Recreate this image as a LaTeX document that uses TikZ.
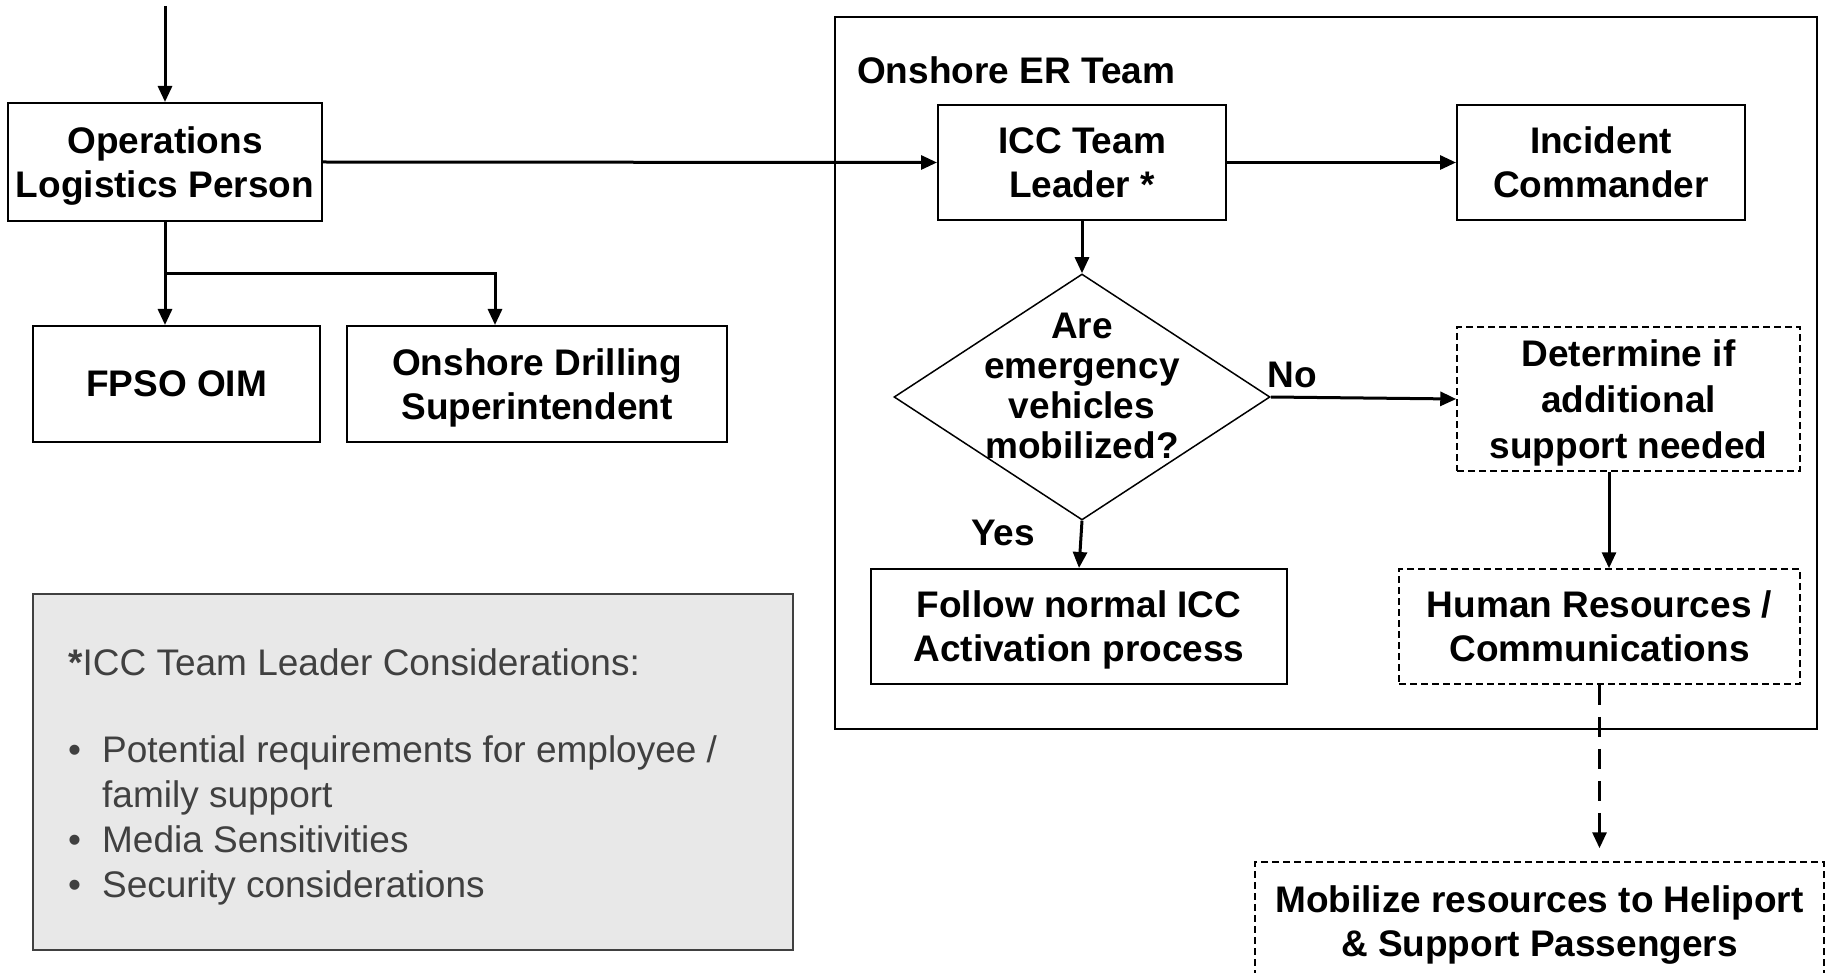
\documentclass[tikz,border=0pt]{standalone}
\usepackage{fontspec}
\setmainfont{Liberation Sans}
\usetikzlibrary{arrows.meta,shapes.geometric}
\definecolor{txtgray}{RGB}{64,64,64}
\definecolor{boxgray}{RGB}{232,232,232}
\begin{document}
\begin{tikzpicture}[x=1pt,y=-1pt,
  bigfont/.style={font=\bfseries\fontsize{37}{44}\selectfont},
  box/.style={draw, line width=2pt, inner sep=0pt, align=center, text depth=0pt, bigfont},
  dbox/.style={box, line width=1.5pt, dash pattern=on 7pt off 4pt},
  arr/.style={line width=3pt, -{Triangle[length=16pt,width=14pt]}},
  darr/.style={arr, dash pattern=on 20pt off 12pt},
  lbl/.style={bigfont, inner sep=0pt}]
\useasboundingbox (0,0) rectangle (1833,973);

% left part
\node[box, minimum width=314pt, minimum height=118pt] (ops) at (165,162) {Operations\\Logistics Person};
\node[box, minimum width=287pt, minimum height=116pt] (fpso) at (176.5,384) {FPSO OIM};
\node[box, minimum width=380pt, minimum height=116pt] (drill) at (537,384) {Onshore Drilling\\Superintendent};

% onshore ER team frame
\node[draw, line width=2pt, minimum width=982pt, minimum height=711.5pt, inner sep=0pt] (er) at (1326,373.25) {};
\node[lbl, anchor=west] (ert) at (857,70) {Onshore ER Team};

\node[box, minimum width=288pt, minimum height=115pt] (icc) at (1082,162.5) {ICC Team\\Leader *};
\node[box, minimum width=288pt, minimum height=115pt] (ic) at (1601,162.5) {Incident\\Commander};
\node[diamond, draw, line width=1.5pt, minimum width=376pt, minimum height=246pt, inner sep=0pt] (dia) at (1082,397) {};
\node[lbl, align=center, font=\bfseries\fontsize{37}{40}\selectfont] (diat) at (1082,386) {Are\\emergency\\vehicles\\mobilized?};
\node[dbox, minimum width=343pt, minimum height=144pt, font=\bfseries\fontsize{37}{46}\selectfont] (det) at (1628.5,399) {Determine if\\additional\\support needed};
\node[box, minimum width=416pt, minimum height=115pt] (follow) at (1079,626.5) {Follow normal ICC\\Activation process};
\node[dbox, minimum width=401pt, minimum height=115pt] (hr) at (1599.5,626.5) {Human Resources /\\Communications};
\node[dbox, minimum width=569pt, minimum height=118pt] (mob) at (1539.5,921) {Mobilize resources to Heliport\\\& Support Passengers};

\node[lbl] (no) at (1292,375) {No};
\node[lbl] (yes) at (1003,533) {Yes};

% considerations box
\node[draw=txtgray, fill=boxgray, line width=2pt, minimum width=760pt, minimum height=356pt, inner sep=0pt] (gray) at (413,772) {};
\node[anchor=north west, align=left, text=txtgray, font=\fontsize{37}{45}\selectfont, inner sep=0pt] (cons) at (68,648)
  {\textbf{*}ICC Team Leader Considerations:\\[42pt]
   \makebox[34pt][l]{•}Potential requirements for employee /\\
   \hspace*{34pt}family support\\
   \makebox[34pt][l]{•}Media Sensitivities\\
   \makebox[34pt][l]{•}Security considerations};

% connectors
\coordinate (topin) at (165,6);
\coordinate (br) at (165,274);
\coordinate (dr) at (495,0);
\coordinate (dh) at (1609,0);
\draw[arr] (topin) -- (ops.north);
\draw[arr] (ops.south) -- (ops.south |- fpso.north);
\draw[arr] (br) -| (drill.north -| dr);
\draw[arr] (ops.east) -- (icc.west);
\draw[arr] (icc.east) -- (ic.west);
\draw[arr] (icc.south) -- (dia.north);
\draw[arr] (dia.east) -- (det.west);
\draw[arr] (dia.south) -- (follow.north);
\draw[arr] (det.south -| dh) -- (hr.north -| dh);
\draw[darr, shorten >=13pt] (hr.south) -- (hr.south |- mob.north);
\end{tikzpicture}
\end{document}
